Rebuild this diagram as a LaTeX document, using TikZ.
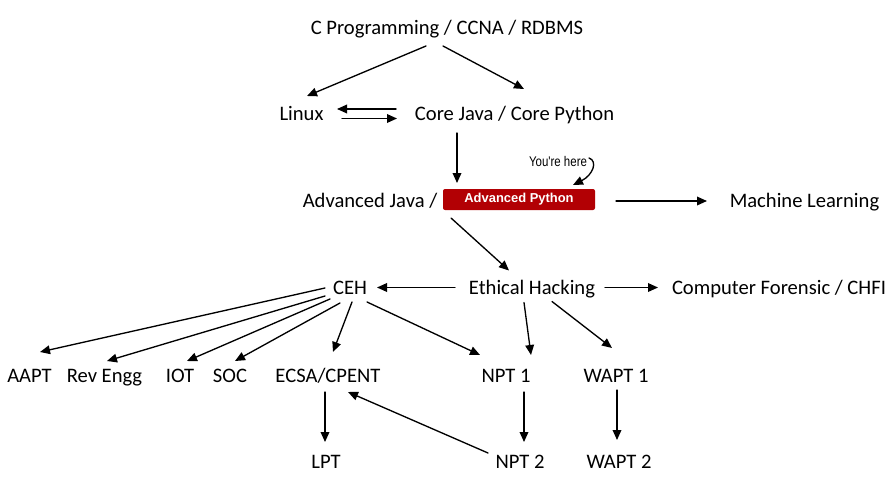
\documentclass[tikz,border=0pt]{standalone}
\usepackage{fontspec}
\setmainfont{Carlito}
\newfontfamily\boxfont{Liberation Sans}
\usetikzlibrary{arrows.meta}
\definecolor{boxred}{RGB}{178,0,4}
\begin{document}
\begin{tikzpicture}[x=0.75pt, y=-0.75pt, line cap=round, line join=round, line width=1pt,
		>={Triangle[length=7.5pt,width=6.5pt]}, font=\fontsize{15.45}{18}\selectfont,
		lbl/.style={inner sep=0pt, text height=0.644em+4.5pt, text depth=0pt},
		herebox/.style={fill=boxred, rounded corners=1.5pt, minimum width=114pt, minimum height=15.75pt,
			inner sep=0pt, text=white, font=\boxfont\bfseries\fontsize{9.7}{11}\selectfont},
		note/.style={inner sep=0pt, font=\boxfont\fontsize{10.5}{12}\selectfont}]
	\useasboundingbox (0,0) rectangle (892,492);
	% top part
	\node[lbl] (base) at (447,27) {C Programming / CCNA / RDBMS};
	\node[lbl] (linux) at (301.5,113) {Linux};
	\node[lbl] (core) at (514.5,113) {Core Java / Core Python};
	\node[lbl] (advj) at (370,200) {Advanced Java /};
	\node[herebox] (advp) at (519,199.5) {Advanced Python};
	\node[note] (here) at (558,161) {\scalebox{0.82}[1]{You're here}};
	\node[lbl] (ml) at (804.5,200) {Machine Learning};
	% middle row
	\node[lbl] (ceh) at (350,287.5) {CEH};
	\node[lbl] (eth) at (532,287.5) {Ethical Hacking};
	\node[lbl] (chfi) at (779,287.5) {Computer Forensic / CHFI};
	% lower rows
	\foreach \n/\x/\t in {aapt/29.5/AAPT, rev/104.5/Rev Engg, iot/180/IOT, soc/230/SOC,
		ecsa/328/ECSA\slash CPENT, npt1/506/NPT 1, wapt1/616/WAPT 1}
		\node[lbl] (\n) at (\x,375) {\t};
	\foreach \n/\x/\t in {lpt/326/LPT, npt2/520/NPT 2, wapt2/619/WAPT 2}
		\node[lbl] (\n) at (\x,461) {\t};

	\draw[->] ([shift={(-21,19)}]base.center) -- ([shift={(5.5,-17)}]linux.center);
	\draw[->] ([shift={(-4,19)}]base.center) -- ([shift={(9.5,-24)}]core.center);
	\draw[->] ([shift={(-118.5,-4)}]core.center) -- ([shift={(35.5,-4)}]linux.center);
	\draw[->] ([shift={(40.5,5.5)}]linux.center) -- ([shift={(-117.5,5.5)}]core.center);
	\draw[->] ([shift={(-57.5,20)}]core.center) -- ([shift={(-62,-16.5)}]advp.center);
	\draw[->] ([shift={(31,-3)}]here.center) .. controls (598,161) and (593,175) .. ([shift={(54,-14.5)}]advp.center);
	\draw[->] ([shift={(97,1.5)}]advp.center) -- ([shift={(-97.5,1)}]ml.center);
	\draw[->] ([shift={(-68,18.5)}]advp.center) -- ([shift={(-23,-17)}]eth.center);
	\draw[->] ([shift={(-77,0)}]eth.center) -- ([shift={(27,0)}]ceh.center);
	\draw[->] ([shift={(73,0)}]eth.center) -- ([shift={(-121,0)}]chfi.center);
	% CEH fan
	\draw[->] ([shift={(-25,0.5)}]ceh.center) -- ([shift={(10.5,-23)}]aapt.center);
	\draw[->] ([shift={(-25,8.5)}]ceh.center) -- ([shift={(2.5,-14)}]rev.center);
	\draw[->] ([shift={(-20,11.5)}]ceh.center) -- ([shift={(7,-14)}]iot.center);
	\draw[->] ([shift={(-10,15.5)}]ceh.center) -- ([shift={(5,-14)}]soc.center);
	\draw[->] ([shift={(2,14.5)}]ceh.center) -- ([shift={(5,-23)}]ecsa.center);
	\draw[->] ([shift={(17,14.5)}]ceh.center) -- ([shift={(-26,-20)}]npt1.center);
	\draw[->] ([shift={(-8,15)}]eth.center) -- ([shift={(25,-20)}]npt1.center);
	\draw[->] ([shift={(20,14)}]eth.center) -- ([shift={(-4,-27)}]wapt1.center);
	% last step
	\draw[->] ([shift={(-3,17)}]ecsa.center) -- ([shift={(-1,-19)}]lpt.center);
	\draw[->] ([shift={(18,17)}]npt1.center) -- ([shift={(4,-19)}]npt2.center);
	\draw[->] ([shift={(1,15)}]wapt1.center) -- ([shift={(-2,-21)}]wapt2.center);
	\draw[->] ([shift={(-32,-8)}]npt2.center) -- ([shift={(20,17)}]ecsa.center);
\end{tikzpicture}
\end{document}
